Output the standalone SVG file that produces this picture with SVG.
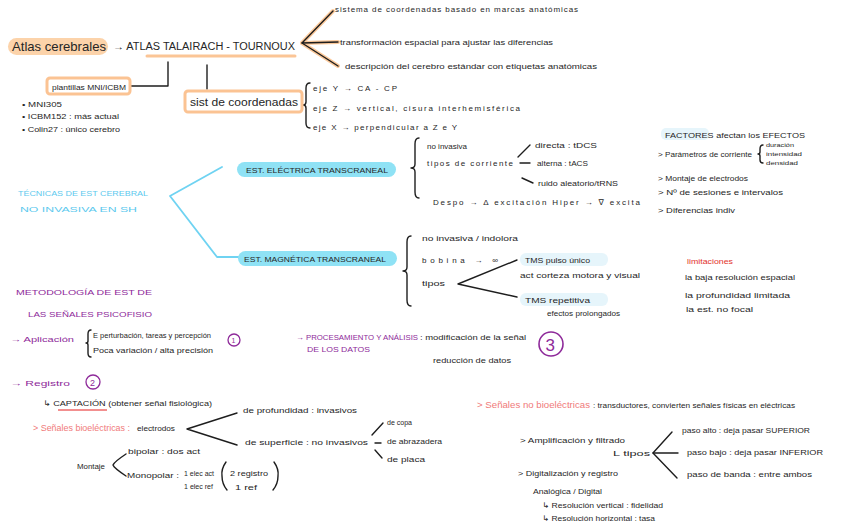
<svg xmlns="http://www.w3.org/2000/svg" width="848" height="530" viewBox="0 0 848 530">
<style>
text{font-family:"Liberation Sans","DejaVu Sans",sans-serif;fill:#262626}
.s{font-size:8px}
.xs{font-size:6.5px}
.m{font-size:10px}
.cy{fill:#5cc9ee;font-size:8px}
.pu{fill:#8e2a9a;font-size:8px}
.pk{fill:#f07a7a;font-size:9px}
.rd{fill:#e2322b;font-size:8px}
.ln{stroke:#1e1e1e;stroke-width:1.4;fill:none;stroke-linecap:round;stroke-linejoin:round}
.cl{stroke:#6fd3f2;stroke-width:1.8;fill:none;stroke-linecap:round;stroke-linejoin:round}
.og{stroke:#fbc899;stroke-width:4;fill:none;stroke-linecap:round;stroke-linejoin:round}
.obox{fill:#fff;stroke:#fbc393;stroke-width:3}
.pill{fill:#8fe2f5}
.lb{fill:#e6f5fb}
.pc{fill:none;stroke:#8e2a9a;stroke-width:1.3}
</style>
<rect width="848" height="530" fill="#fff"/>

<g id="connectors">
  <polyline class="og" points="333,11 302,43 338,42"/>
  <polyline class="og" points="302,43 338,66"/>
  <polyline class="ln" points="333,11 302,43 338,42"/>
  <polyline class="ln" points="302,43 338,66"/>
  <line x1="147" y1="56" x2="295" y2="56" stroke="#fbc596" stroke-width="3" stroke-linecap="round"/>
  <polyline class="ln" points="168,62 168,86 128,86"/>
  <line class="ln" x1="207" y1="65" x2="207" y2="89"/>
  <path class="ln" d="M310 83 Q306 83 306 88 L306 102 Q306 105 303 105 Q306 105 306 108 L306 123 Q306 128 310 128"/>
  <polyline class="cl" points="222,167 170,196 217,257 240,257"/>
  <path class="ln" d="M419 138 Q415 138 415 144 L415 164 Q415 168 411 168 Q415 168 415 172 L415 192 Q415 198 419 198"/>
  <line class="ln" x1="518" y1="157" x2="530" y2="145"/>
  <line class="ln" x1="520" y1="163" x2="530" y2="163"/>
  <line class="ln" x1="522" y1="178" x2="533" y2="183"/>
  <path class="ln" d="M763 145 Q760 145 760 149 L760 152 Q760 154 758 154 Q760 154 760 156 L760 160 Q760 163 763 163" stroke-width="1"/>
  <path class="ln" d="M411 236 Q407 236 407 242 L407 267 Q407 271 403 271 Q407 271 407 275 L407 300 Q407 306 411 306"/>
  <polyline class="ln" points="517,260 458,284 517,297"/>
  <path class="ln" d="M91 330 Q88 330 88 334 L88 341 Q88 343 86 343 Q88 343 88 345 L88 353 Q88 357 91 357" stroke-width="1.1"/>
  <line x1="58" y1="410" x2="107" y2="410" stroke="#ee6a6a" stroke-width="1.3"/>
  <polyline class="ln" points="237,413 187,429 237,445"/>
  <line class="ln" x1="372" y1="435" x2="383" y2="423"/>
  <line class="ln" x1="375" y1="443" x2="381" y2="443"/>
  <line class="ln" x1="375" y1="450" x2="382" y2="458"/>
  <path class="ln" d="M126 454 Q114 462 113 465 Q114 468 126 476"/>
  <path class="ln" d="M226 462 Q221 469 222 476 Q222 484 227 490" stroke-width="1.1"/>
  <path class="ln" d="M274 462 Q279 469 278 476 Q278 484 273 490" stroke-width="1.1"/>
  <polyline class="ln" points="672,432 653,453 677,478"/>
  <line class="ln" x1="653" y1="453" x2="678" y2="453"/>
</g>

<g id="atlas-cerebrales">
  <rect x="8" y="38" width="100" height="17" rx="8.5" fill="#fcd3aa"/>
  <text x="12" y="51" font-size="13" textLength="94" lengthAdjust="spacingAndGlyphs">Atlas cerebrales</text>
</g>
<g id="atlas-talairach">
  <text x="113" y="50" class="m" textLength="182" lengthAdjust="spacingAndGlyphs">→  ATLAS  TALAIRACH - TOURNOUX</text>
</g>
<g id="atlas-def">
  <text x="335" y="12" class="s" textLength="243" lengthAdjust="spacing">sistema de coordenadas basado en marcas anatómicas</text>
  <text x="340" y="45" class="s" textLength="213" lengthAdjust="spacingAndGlyphs">transformación espacial para ajustar las diferencias</text>
  <text x="345" y="69" class="s" textLength="252" lengthAdjust="spacingAndGlyphs">descripción del cerebro estándar con etiquetas anatómicas</text>
</g>
<g id="plantillas">
  <rect class="obox" x="47" y="78" width="83" height="16" rx="3"/>
  <text x="52" y="90" class="s" textLength="74" lengthAdjust="spacingAndGlyphs">plantillas MNI/ICBM</text>
  <text x="22" y="107" class="s" textLength="40" lengthAdjust="spacingAndGlyphs">• MNI305</text>
  <text x="22" y="119" class="s" textLength="97" lengthAdjust="spacingAndGlyphs">• ICBM152 : más actual</text>
  <text x="22" y="132" class="s" textLength="98" lengthAdjust="spacingAndGlyphs">• Colin27 : único cerebro</text>
</g>
<g id="sist-coordenadas">
  <rect class="obox" x="185" y="91" width="117" height="21" rx="3"/>
  <text x="190" y="106" font-size="11" textLength="108" lengthAdjust="spacingAndGlyphs">sist de coordenadas</text>
  <text x="313" y="91" class="s" textLength="84" lengthAdjust="spacing">eje Y → CA - CP</text>
  <text x="313" y="111" class="s" textLength="207" lengthAdjust="spacing">eje Z → vertical, cisura interhemisférica</text>
  <text x="313" y="130" class="s" textLength="144" lengthAdjust="spacing">eje X → perpendicular a Z e Y</text>
</g>

<g id="tecnicas">
  <text x="18" y="196" class="cy" textLength="130" lengthAdjust="spacingAndGlyphs">TÉCNICAS DE EST CEREBRAL</text>
  <text x="20" y="212" class="cy" textLength="117" lengthAdjust="spacingAndGlyphs">NO INVASIVA EN SH</text>
</g>
<g id="est-electrica">
  <rect class="pill" x="237" y="162" width="159" height="15" rx="7.5"/>
  <text x="246" y="173" class="s" textLength="142" lengthAdjust="spacingAndGlyphs">EST. ELÉCTRICA TRANSCRANEAL</text>
  <text x="427" y="149" class="s" textLength="40" lengthAdjust="spacingAndGlyphs">no invasiva</text>
  <text x="427" y="166" class="s" textLength="86" lengthAdjust="spacing">tipos de corriente</text>
  <text x="535" y="148" class="s" textLength="62" lengthAdjust="spacingAndGlyphs">directa : tDCS</text>
  <text x="537" y="166" class="s" textLength="51" lengthAdjust="spacingAndGlyphs">alterna : tACS</text>
  <text x="538" y="186" class="xs" textLength="80" lengthAdjust="spacingAndGlyphs">ruido aleatorio/tRNS</text>
  <text x="433" y="205" class="s" textLength="207" lengthAdjust="spacing">Despo → Δ excitación      Hiper → ∇ excita</text>
</g>
<g id="factores">
  <rect class="lb" x="661" y="128" width="48" height="12" rx="5"/>
  <text x="665" y="138" class="s" textLength="140" lengthAdjust="spacingAndGlyphs">FACTORES afectan los EFECTOS</text>
  <text x="658" y="157" class="s" textLength="94" lengthAdjust="spacingAndGlyphs">&gt; Parámetros de corriente</text>
  <text x="766" y="147" font-size="5.5" textLength="28" lengthAdjust="spacingAndGlyphs">duración</text>
  <text x="766" y="156" font-size="5.5" textLength="36" lengthAdjust="spacingAndGlyphs">intensidad</text>
  <text x="766" y="165" font-size="5.5" textLength="32" lengthAdjust="spacingAndGlyphs">densidad</text>
  <text x="658" y="181" class="s" textLength="90" lengthAdjust="spacingAndGlyphs">&gt; Montaje de electrodos</text>
  <text x="658" y="195" class="s" textLength="125" lengthAdjust="spacingAndGlyphs">&gt; Nº de sesiones e intervalos</text>
  <text x="658" y="213" class="s" textLength="77" lengthAdjust="spacingAndGlyphs">&gt; Diferencias indiv</text>
</g>
<g id="est-magnetica">
  <rect class="pill" x="238" y="251" width="159" height="15" rx="7.5"/>
  <text x="244" y="262" class="s" textLength="142" lengthAdjust="spacingAndGlyphs">EST. MAGNÉTICA TRANSCRANEAL</text>
  <text x="422" y="241" class="s" textLength="96" lengthAdjust="spacingAndGlyphs">no invasiva / indolora</text>
  <text x="422" y="263" class="s" textLength="76" lengthAdjust="spacing">bobina → ∞</text>
  <text x="422" y="286" class="s" textLength="23" lengthAdjust="spacingAndGlyphs">tipos</text>
  <rect class="lb" x="520" y="253" width="88" height="13" rx="6"/>
  <text x="525" y="263" class="s" textLength="65" lengthAdjust="spacingAndGlyphs">TMS pulso único</text>
  <text x="520" y="278" class="s" textLength="120" lengthAdjust="spacingAndGlyphs">act corteza motora y visual</text>
  <rect class="lb" x="520" y="293" width="88" height="13" rx="6"/>
  <text x="525" y="303" class="s" textLength="65" lengthAdjust="spacingAndGlyphs">TMS repetitiva</text>
  <text x="547" y="316" class="s" textLength="73" lengthAdjust="spacingAndGlyphs">efectos prolongados</text>
</g>
<g id="limitaciones">
  <text x="687" y="264" class="rd" textLength="46" lengthAdjust="spacingAndGlyphs">limitaciones</text>
  <text x="685" y="280" class="s" textLength="110" lengthAdjust="spacingAndGlyphs">la baja resolución espacial</text>
  <text x="685" y="298" class="s" textLength="105" lengthAdjust="spacingAndGlyphs">la profundidad limitada</text>
  <text x="686" y="312" class="s" textLength="67" lengthAdjust="spacingAndGlyphs">la est. no focal</text>
</g>

<g id="metodologia">
  <text x="16" y="295" class="pu" textLength="136" lengthAdjust="spacingAndGlyphs">METODOLOGÍA DE EST DE</text>
  <text x="28" y="317" class="pu" textLength="124" lengthAdjust="spacingAndGlyphs">LAS SEÑALES PSICOFISIO</text>
</g>
<g id="aplicacion">
  <text x="10" y="342" class="pu" textLength="64" lengthAdjust="spacingAndGlyphs">→ Aplicación</text>
  <text x="93" y="338" class="s" textLength="118" lengthAdjust="spacingAndGlyphs">E perturbación, tareas y percepción</text>
  <text x="93" y="353" class="s" textLength="120" lengthAdjust="spacingAndGlyphs">Poca variación / alta precisión</text>
  <circle class="pc" cx="234" cy="340" r="6"/>
  <text x="231.5" y="343" font-size="7" style="fill:#8e2a9a">1</text>
</g>
<g id="procesamiento">
  <text x="296" y="340" class="pu" font-size="7" textLength="122" lengthAdjust="spacingAndGlyphs">→ PROCESAMIENTO Y ANÁLISIS</text>
  <text x="307" y="352" class="pu" font-size="7" textLength="63" lengthAdjust="spacingAndGlyphs">DE LOS DATOS</text>
  <text x="420" y="340" class="s" textLength="106" lengthAdjust="spacingAndGlyphs">: modificación de la señal</text>
  <text x="433" y="363" class="s" textLength="78" lengthAdjust="spacingAndGlyphs">reducción de datos</text>
  <circle cx="551" cy="344" r="12" fill="none" stroke="#8e2a9a" stroke-width="1.6"/>
  <text x="545.5" y="350.5" font-size="17" style="fill:#8e2a9a">3</text>
</g>
<g id="registro">
  <text x="10" y="386" class="pu" font-size="9" textLength="60" lengthAdjust="spacingAndGlyphs">→ Registro</text>
  <circle class="pc" cx="93" cy="382" r="7"/>
  <text x="90" y="386" font-size="9" style="fill:#8e2a9a">2</text>
  <text x="43" y="406" class="s" textLength="169" lengthAdjust="spacingAndGlyphs">↳ CAPTACIÓN  (obtener señal fisiológica)</text>
</g>
<g id="bioelectricas">
  <text x="33" y="431" class="pk" textLength="97" lengthAdjust="spacingAndGlyphs">&gt; Señales bioeléctricas :</text>
  <text x="137" y="431" class="s" textLength="38" lengthAdjust="spacingAndGlyphs">electrodos</text>
  <text x="243" y="413" class="s" textLength="114" lengthAdjust="spacingAndGlyphs">de profundidad : invasivos</text>
  <text x="245" y="445" class="s" textLength="123" lengthAdjust="spacingAndGlyphs">de superficie : no invasivos</text>
  <text x="387" y="425" class="s" textLength="25" lengthAdjust="spacingAndGlyphs">de copa</text>
  <text x="387" y="444" class="s" textLength="55" lengthAdjust="spacingAndGlyphs">de abrazadera</text>
  <text x="387" y="462" class="s" textLength="38" lengthAdjust="spacingAndGlyphs">de placa</text>
</g>
<g id="montaje">
  <text x="77" y="469" class="s" textLength="28" lengthAdjust="spacingAndGlyphs">Montaje</text>
  <text x="128" y="454" class="s" textLength="72" lengthAdjust="spacingAndGlyphs">bipolar : dos act</text>
  <text x="127" y="478" class="s" textLength="52" lengthAdjust="spacingAndGlyphs">Monopolar :</text>
  <text x="184" y="476" class="xs" textLength="30" lengthAdjust="spacingAndGlyphs">1 elec act</text>
  <text x="184" y="489" class="xs" textLength="29" lengthAdjust="spacingAndGlyphs">1 elec ref</text>
  <text x="230" y="476" class="s" textLength="38" lengthAdjust="spacingAndGlyphs">2 registro</text>
  <text x="235" y="490" class="s" textLength="22" lengthAdjust="spacingAndGlyphs">1 ref</text>
</g>
<g id="no-bioelectricas">
  <text x="477" y="408" class="pk" textLength="113" lengthAdjust="spacingAndGlyphs">&gt; Señales no bioeléctricas</text>
  <text x="593" y="408" class="s" textLength="202" lengthAdjust="spacingAndGlyphs">: transductores, convierten señales físicas en eléctricas</text>
</g>
<g id="amplificacion">
  <text x="520" y="443" class="s" textLength="105" lengthAdjust="spacingAndGlyphs">&gt; Amplificación y filtrado</text>
  <text x="613" y="456" class="s" textLength="37" lengthAdjust="spacingAndGlyphs">L tipos</text>
  <text x="682" y="433" class="s" textLength="128" lengthAdjust="spacingAndGlyphs">paso alto : deja pasar SUPERIOR</text>
  <text x="687" y="455" class="s" textLength="136" lengthAdjust="spacingAndGlyphs">paso bajo : deja pasar INFERIOR</text>
  <text x="687" y="477" class="s" textLength="125" lengthAdjust="spacingAndGlyphs">paso de banda :  entre ambos</text>
</g>
<g id="digitalizacion">
  <text x="518" y="476" class="s" textLength="100" lengthAdjust="spacingAndGlyphs">&gt; Digitalización y registro</text>
  <text x="533" y="494" class="s" textLength="69" lengthAdjust="spacingAndGlyphs">Analógica / Digital</text>
  <text x="542" y="508" class="s" textLength="121" lengthAdjust="spacingAndGlyphs">↳ Resolución vertical : fidelidad</text>
  <text x="542" y="521" class="s" textLength="113" lengthAdjust="spacingAndGlyphs">↳ Resolución horizontal : tasa</text>
</g>
</svg>
